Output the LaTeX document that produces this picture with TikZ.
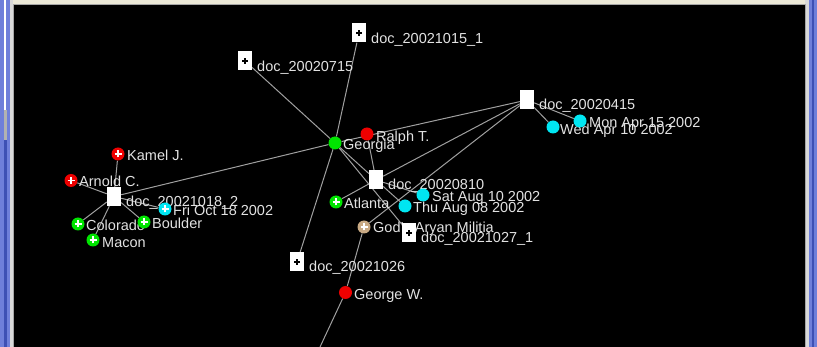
\documentclass[tikz,border=0pt]{standalone}
\usepackage{fontspec}
\setmainfont{Liberation Sans}
\pgfdeclarelayer{frame}
\pgfdeclarelayer{edges}
\pgfdeclarelayer{labels}
\pgfsetlayers{frame,edges,labels,main}

\definecolor{winbeige}{HTML}{ECE9D8}
\definecolor{winblue}{HTML}{6F7FDA}
\definecolor{windark}{HTML}{3E50B4}
\definecolor{edgegray}{HTML}{A0A0A0}
\definecolor{labeltext}{HTML}{E2E2E2}
\definecolor{entgreen}{HTML}{00E400}
\definecolor{entred}{HTML}{EE0000}
\definecolor{entcyan}{HTML}{00E6F2}
\definecolor{enttan}{HTML}{C9AA84}

\tikzset{
  ent/.style={circle, minimum size=13, inner sep=0, draw=none},
  doc/.style={rectangle, fill=white, minimum width=14, minimum height=19, inner sep=0, draw=none},
  plusw/.style={path picture={
    \draw[white, line width=1.4pt]
      ([xshift=-3.5pt]path picture bounding box.center) -- ([xshift=3.5pt]path picture bounding box.center)
      ([yshift=-3.5pt]path picture bounding box.center) -- ([yshift=3.5pt]path picture bounding box.center);}},
  plusb/.style={path picture={
    \draw[black, line width=1.2pt]
      ([xshift=-3pt]path picture bounding box.center) -- ([xshift=3pt]path picture bounding box.center)
      ([yshift=-3pt]path picture bounding box.center) -- ([yshift=3pt]path picture bounding box.center);}},
  lbl/.style={text=labeltext, anchor=base west, inner sep=0,
    font=\fontsize{14.5}{16}\selectfont},
  link/.style={draw=edgegray, line width=1pt},
}

\begin{document}
\begin{tikzpicture}[x=1pt, y=-1pt]
\useasboundingbox (0,0) rectangle (817,347);

% window frame and black canvas
\begin{pgfonlayer}{frame}
  \fill[winbeige] (0,0) rectangle (817,347);
  \fill[winblue] (0,0) rectangle (10,347);
  \fill[white] (4,0) rectangle (6,110);
  \fill[windark] (4,140) rectangle (7,347);
  \fill[gray!60] (4,110) rectangle (7,140);
  \fill[gray!30] (10,0) rectangle (13,347);
  \fill[winblue] (809,0) rectangle (817,347);
  \fill[windark] (812,0) rectangle (814,347);
  \fill[gray!30] (805,0) rectangle (809,347);
  \fill[black] (13.5,4.5) rectangle (805.5,347);
  \draw[gray!70, line width=0.8pt] (13.5,347) -- (13.5,4.5) -- (805.5,4.5) -- (805.5,347);
\end{pgfonlayer}

% documents
\node[doc, plusb] (d1015) at (359,33) {};
\node[doc, plusb] (d0715) at (245,61) {};
\node[doc] (d0415) at (527,100) {};
\node[doc] (d0810) at (376,180) {};
\node[doc] (d1018) at (114,196.5) {};
\node[doc, plusb] (d1027) at (409,233) {};
\node[doc, plusb] (d1026) at (297,262) {};

% entities
\node[ent, fill=entgreen] (ga) at (335,143) {};
\node[ent, fill=entred] (ra) at (367,134) {};
\node[ent, fill=entgreen, plusw] (at) at (336,202) {};
\node[ent, fill=enttan, plusw] (gam) at (364,227) {};
\node[ent, fill=entcyan] (sat) at (423,195) {};
\node[ent, fill=entcyan] (thu) at (405,206) {};
\node[ent, fill=entcyan] (mon) at (580,121) {};
\node[ent, fill=entcyan] (wed) at (553,127) {};
\node[ent, fill=entred] (gw) at (345.5,292.5) {};
\node[ent, fill=entred, plusw] (kam) at (118,154) {};
\node[ent, fill=entred, plusw] (arn) at (71,180.5) {};
\node[ent, fill=entcyan, plusw] (fri) at (165,209) {};
\node[ent, fill=entgreen, plusw] (col) at (78,224) {};
\node[ent, fill=entgreen, plusw] (bou) at (144,222) {};
\node[ent, fill=entgreen, plusw] (mac) at (93,240) {};
\coordinate (off) at (320,347);

% connections
\begin{pgfonlayer}{edges}
  \draw[link] (d0715) -- (ga);
  \draw[link] (d1015) -- (ga);
  \draw[link] (ga) -- (d1026);
  \draw[link] (d1018) -- (ga);
  \draw[link] (ga) -- (d0415);
  \draw[link] (ga) -- (d0810);
  \draw[link] (ga) -- (d1027);
  \draw[link] (ra) -- (d0810);
  \draw[link] (d0810) -- (d0415);
  \draw[link] (at) -- (d0810);
  \draw[link] (gam) -- (d0415);
  \draw[link] (gam) -- (gw);
  \draw[link] (gw) -- (off);
  \draw[link] (d0810) -- (sat);
  \draw[link] (d0810) -- (thu);
  \draw[link] (d0415) -- (mon);
  \draw[link] (d0415) -- (wed);
  \draw[link] (d1018) -- (kam);
  \draw[link] (d1018) -- (arn);
  \draw[link] (d1018) -- (col);
  \draw[link] (d1018) -- (mac);
  \draw[link] (d1018) -- (bou);
  \draw[link] (d1018) -- (fri);
\end{pgfonlayer}

% labels
\begin{pgfonlayer}{labels}
  \node[lbl] (l1015) at (371,44) {doc\_20021015\_1};
  \node[lbl] (l0715) at (257,72) {doc\_20020715};
  \node[lbl] (l0415) at (539,110) {doc\_20020415};
  \node[lbl] (l0810) at (388,190) {doc\_20020810};
  \node[lbl] (l1018) at (126,207) {doc\_20021018\_2};
  \node[lbl] (l1027) at (421,243) {doc\_20021027\_1};
  \node[lbl] (l1026) at (309,272) {doc\_20021026};
  \node[lbl] (lga) at (343,150) {Georgia};
  \node[lbl] (lra) at (376,142) {Ralph T.};
  \node[lbl] (lat) at (344,209) {Atlanta};
  \node[lbl] (lgam) at (373,233) {God's Aryan Militia};
  \node[lbl] (lsat) at (432,202) {Sat Aug 10 2002};
  \node[lbl] (lthu) at (413,213) {Thu Aug 08 2002};
  \node[lbl] (lmon) at (589,128) {Mon Apr 15 2002};
  \node[lbl] (lwed) at (560,135) {Wed Apr 10 2002};
  \node[lbl] (lgw) at (354,300) {George W.};
  \node[lbl] (lkam) at (127,161) {Kamel J.};
  \node[lbl] (larn) at (79,187) {Arnold C.};
  \node[lbl] (lfri) at (173,216) {Fri Oct 18 2002};
  \node[lbl] (lcol) at (86,231) {Colorado};
  \node[lbl] (lbou) at (152,229) {Boulder};
  \node[lbl] (lmac) at (102,248) {Macon};
\end{pgfonlayer}
\end{tikzpicture}
\end{document}
